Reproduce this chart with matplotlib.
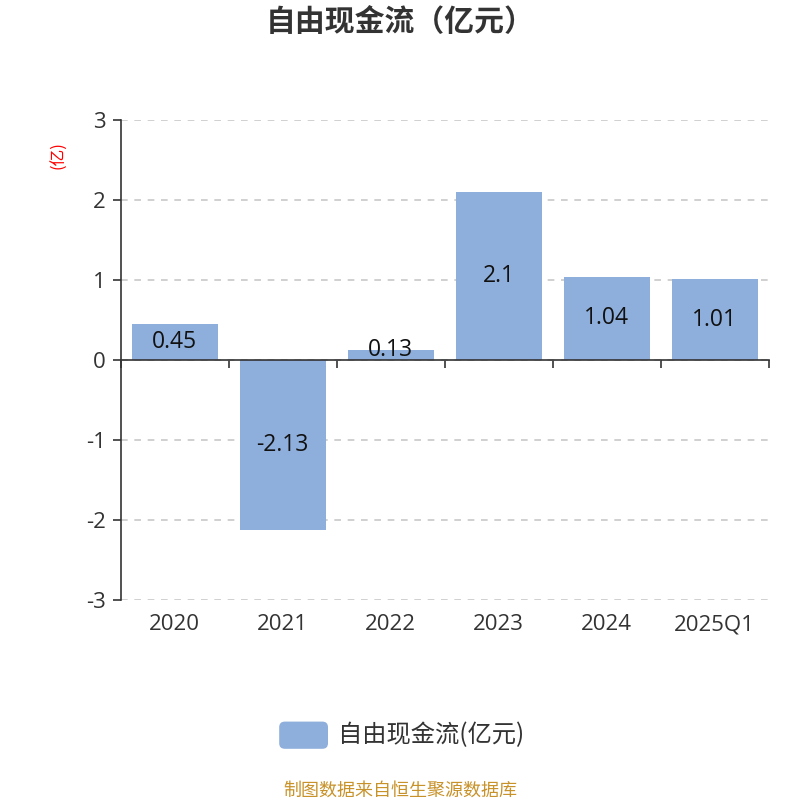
import matplotlib
matplotlib.use("Agg")
import matplotlib.pyplot as plt
from matplotlib.patches import FancyBboxPatch

plt.rcParams['font.family'] = ['Noto Sans CJK SC', 'DejaVu Sans']
num_font = ['Open Sans', 'Noto Sans CJK SC']

categories = ["2020", "2021", "2022", "2023", "2024", "2025Q1"]
values = [0.45, -2.13, 0.13, 2.1, 1.04, 1.01]
labels = ["0.45", "-2.13", "0.13", "2.1", "1.04", "1.01"]
yticks = [-3, -2, -1, 0, 1, 2, 3]

bar_color = "#8eaedb"
text_color = "#333333"

fig = plt.figure(figsize=(8, 8), dpi=100)
ax = fig.add_axes([0.151, 0.25, 0.81, 0.60])

x = list(range(len(categories)))
ax.bar(x, values, width=0.8, color=bar_color, zorder=2)

for xi, v, lab in zip(x, values, labels):
    ax.text(xi, v / 2 if abs(v) > 0.3 else v, lab, ha="center", va="center",
            fontsize=16.5, color="#111111", family=num_font, zorder=3)

ax.set_xlim(-0.5, len(categories) - 0.5)
ax.set_ylim(-3, 3)
ax.set_yticks(yticks)
ax.set_yticklabels([str(t) for t in yticks], fontsize=16, color=text_color, family=num_font)
ax.yaxis.grid(True, linestyle=(0, (4, 4)), color="#c8c8c8", linewidth=1.2, zorder=0)

for s in ["top", "right"]:
    ax.spines[s].set_visible(False)
ax.spines["left"].set_color(text_color)
ax.spines["left"].set_linewidth(1.2)
ax.spines["bottom"].set_position(("data", 0))
ax.spines["bottom"].set_color(text_color)
ax.spines["bottom"].set_linewidth(1.2)
ax.spines["bottom"].set_zorder(4)
ax.tick_params(axis="y", length=6, width=1.2, color=text_color, pad=5)
ax.set_xticks([i + 0.5 for i in range(-1, len(categories))])
ax.set_xticklabels([])
ax.tick_params(axis="x", length=6, width=1.2, color=text_color, direction="out")

for xi, c in zip(x, categories):
    ax.text(xi, -0.03, c, transform=ax.get_xaxis_transform(), ha="center",
            va="top", fontsize=16, color=text_color, family=num_font)

fig.text(0.5, 0.972, "自由现金流（亿元）", ha="center", va="center",
         fontsize=21.5, fontweight="bold", color=text_color)
fig.text(0.073, 0.806, "(亿)", ha="center", va="center", rotation=90,
         fontsize=12, color="red")

# legend
patch = FancyBboxPatch((0.349, 0.064), 0.061, 0.034, boxstyle="round,pad=0,rounding_size=0.007",
                       transform=fig.transFigure, facecolor=bar_color, edgecolor="none")
fig.patches.append(patch)
fig.text(0.423, 0.081, "自由现金流(亿元)", ha="left", va="center",
         fontsize=17.5, color=text_color)

fig.text(0.5, 0.012, "制图数据来自恒生聚源数据库", ha="center", va="center",
         fontsize=13, color="#c8922a")

fig.savefig("out.png", dpi=100)
